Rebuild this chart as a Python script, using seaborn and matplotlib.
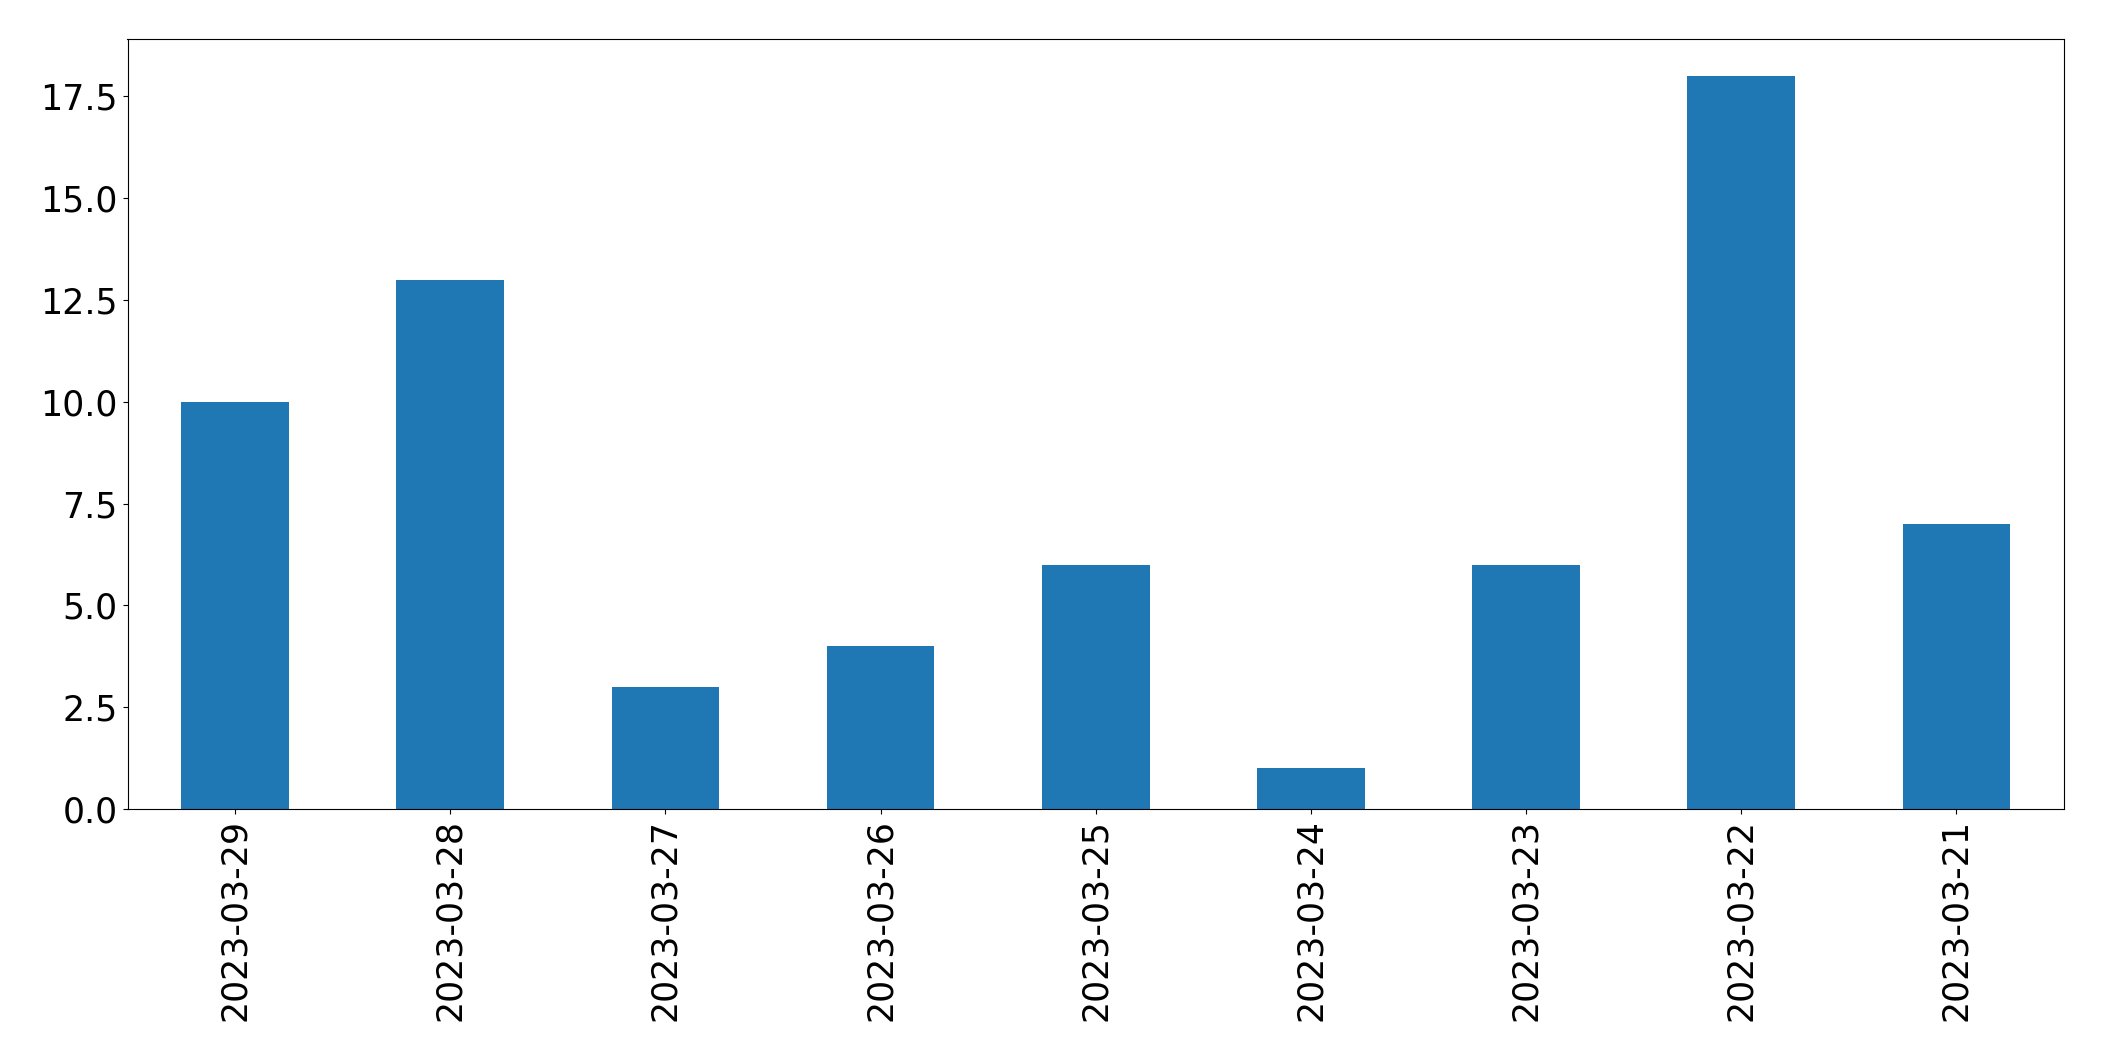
import matplotlib
matplotlib.use("Agg")
import matplotlib.pyplot as plt
import seaborn as sns
import pandas as pd

dates = ["2023-03-29", "2023-03-28", "2023-03-27", "2023-03-26", "2023-03-25",
         "2023-03-24", "2023-03-23", "2023-03-22", "2023-03-21"]
counts = [10, 13, 3, 4, 6, 1, 6, 18, 7]

df = pd.DataFrame({"date": dates, "count": counts})

fig = plt.figure(figsize=(21.04, 10.61), dpi=100)
ax = fig.add_axes([127.5 / 2104, 1 - 809 / 1061, (2064 - 127.5) / 2104, (809 - 39.3) / 1061])
sns.barplot(data=df, x="date", y="count", order=dates, color="#1f77b4",
            saturation=1, width=0.5, ax=ax, errorbar=None)
ax.set_xlim(-0.5, len(dates) - 0.5)
ax.set_ylim(0, max(counts) * 1.05)
ax.set_xlabel("")
ax.set_ylabel("")
ax.tick_params(axis="x", labelrotation=90, labelsize=25)
ax.tick_params(axis="y", labelsize=25)
for s in ax.spines.values():
    s.set_visible(True)
    s.set_color("black")
fig.savefig("out.png", dpi=100)
